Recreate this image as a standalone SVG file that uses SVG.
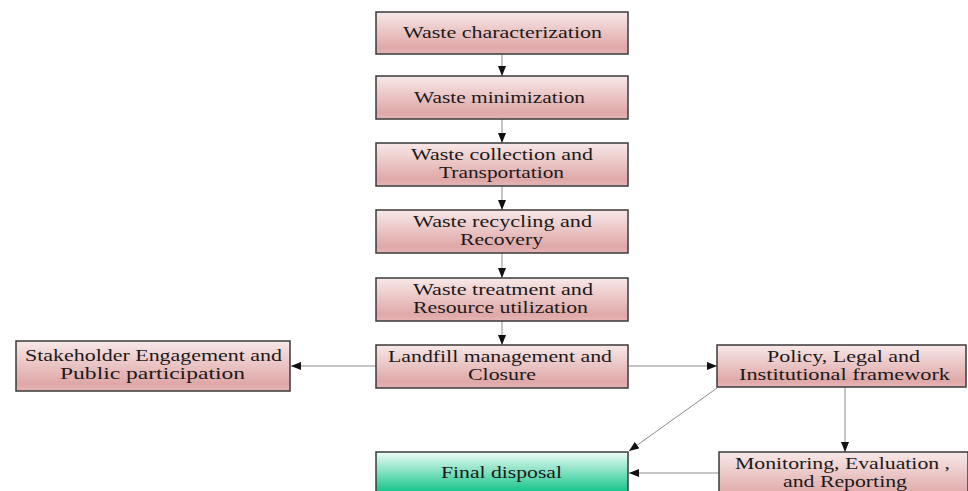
<svg xmlns="http://www.w3.org/2000/svg" width="968" height="491" viewBox="0 0 968 491">
<defs>
<linearGradient id="pink" x1="0" y1="0" x2="0" y2="1">
<stop offset="0" stop-color="#f8e8e8"/>
<stop offset="0.85" stop-color="#e0a8a8"/>
<stop offset="1" stop-color="#e6b4b4"/>
</linearGradient>
<linearGradient id="green" x1="0" y1="0" x2="0" y2="1">
<stop offset="0" stop-color="#eefcf6"/>
<stop offset="0.8" stop-color="#14c48a"/>
<stop offset="1" stop-color="#0fbf85"/>
</linearGradient>
<marker id="ah" markerWidth="10" markerHeight="8" refX="10" refY="4" orient="auto" markerUnits="userSpaceOnUse">
<path d="M0,0 L10,4 L0,8 Z" fill="#111"/>
</marker>
<style>
.box{fill:url(#pink);stroke:#3a3a3a;stroke-width:1.5}
.gbox{fill:url(#green);stroke:#3a3a3a;stroke-width:1.5}
text{font-family:"Liberation Serif","Times New Roman",serif;font-size:16px;fill:#1a1a1a}
.c{fill:none;stroke:#8c8c8c;stroke-width:1;marker-end:url(#ah)}
</style>
</defs>
<g id="connectors">
<line class="c" x1="502" y1="54" x2="502" y2="76"/>
<line class="c" x1="502" y1="119" x2="502" y2="143"/>
<line class="c" x1="502" y1="186" x2="502" y2="210"/>
<line class="c" x1="502" y1="253" x2="502" y2="278"/>
<line class="c" x1="502" y1="321" x2="502" y2="345"/>
<line class="c" x1="376" y1="366" x2="291" y2="366"/>
<line class="c" x1="628" y1="366" x2="717" y2="366"/>
<line class="c" x1="717" y1="388" x2="629" y2="451"/>
<line class="c" x1="845" y1="387" x2="845" y2="452"/>
<line class="c" x1="719" y1="473" x2="629" y2="473"/>
</g>
<g id="n1">
<rect class="box" x="376" y="12" width="252" height="42"/>
<text x="403" y="38" textLength="199" lengthAdjust="spacingAndGlyphs">Waste characterization</text>
</g>
<g id="n2">
<rect class="box" x="376" y="76" width="252" height="43"/>
<text x="414" y="103" textLength="171" lengthAdjust="spacingAndGlyphs">Waste minimization</text>
</g>
<g id="n3">
<rect class="box" x="376" y="143" width="252" height="43"/>
<text x="411" y="159.5" textLength="182" lengthAdjust="spacingAndGlyphs">Waste collection and</text>
<text x="439" y="177.5" textLength="125" lengthAdjust="spacingAndGlyphs">Transportation</text>
</g>
<g id="n4">
<rect class="box" x="376" y="210" width="252" height="43"/>
<text x="413" y="226.5" textLength="179" lengthAdjust="spacingAndGlyphs">Waste recycling and</text>
<text x="460" y="244.5" textLength="83" lengthAdjust="spacingAndGlyphs">Recovery</text>
</g>
<g id="n5">
<rect class="box" x="376" y="278" width="252" height="43"/>
<text x="413" y="294.5" textLength="180" lengthAdjust="spacingAndGlyphs">Waste treatment and</text>
<text x="413" y="312.5" textLength="175" lengthAdjust="spacingAndGlyphs">Resource utilization</text>
</g>
<g id="n6">
<rect class="box" x="376" y="345" width="252" height="43"/>
<text x="388" y="361.5" textLength="224" lengthAdjust="spacingAndGlyphs">Landfill management and</text>
<text x="468" y="379.5" textLength="68" lengthAdjust="spacingAndGlyphs">Closure</text>
</g>
<g id="n7">
<rect class="box" x="16" y="341" width="274" height="50"/>
<text x="25" y="361" textLength="257" lengthAdjust="spacingAndGlyphs">Stakeholder Engagement and</text>
<text x="60" y="379" textLength="185" lengthAdjust="spacingAndGlyphs">Public participation</text>
</g>
<g id="n8">
<rect class="box" x="717" y="345" width="249" height="42"/>
<text x="767" y="362" textLength="153" lengthAdjust="spacingAndGlyphs">Policy, Legal and</text>
<text x="739" y="380" textLength="211" lengthAdjust="spacingAndGlyphs">Institutional framework</text>
</g>
<g id="n9">
<rect class="box" x="719" y="452" width="249" height="50"/>
<text x="735" y="469" textLength="215" lengthAdjust="spacingAndGlyphs">Monitoring, Evaluation ,</text>
<text x="783" y="487" textLength="124" lengthAdjust="spacingAndGlyphs">and Reporting</text>
</g>
<g id="n10">
<rect class="gbox" x="376" y="452" width="252" height="50"/>
<text x="441" y="478" textLength="121" lengthAdjust="spacingAndGlyphs">Final disposal</text>
</g>
</svg>
